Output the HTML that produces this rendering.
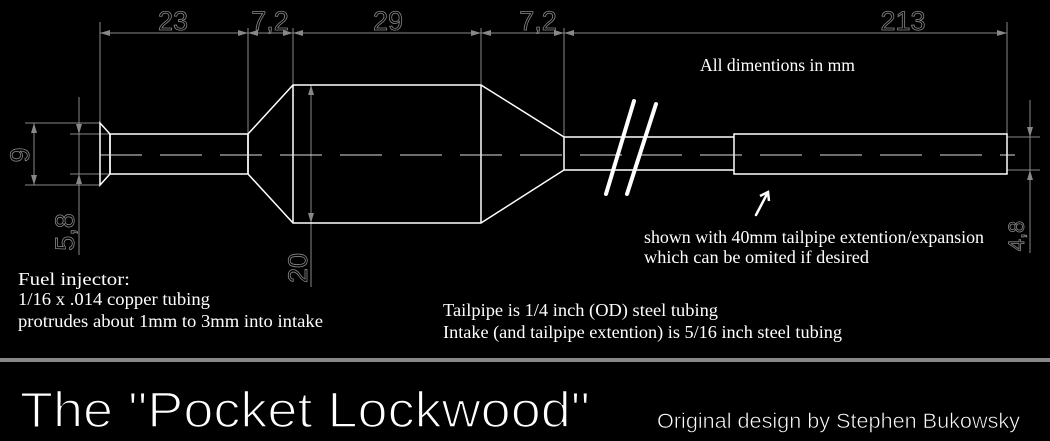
<!DOCTYPE html>
<html><head><meta charset="utf-8"><style>
html,body{margin:0;padding:0;background:#000;}
svg{display:block}
.ser{font-family:"Liberation Serif",serif;fill:#fff;font-size:18px}
.dim{font-family:"Liberation Sans",sans-serif;font-size:27px;fill:none;stroke:#888;stroke-width:0.8}
</style></head><body>
<svg width="1050" height="441" viewBox="0 0 1050 441" xmlns="http://www.w3.org/2000/svg">
<defs>
<marker id="a" viewBox="0 0 10 6" refX="10" refY="3" markerWidth="10" markerHeight="6" markerUnits="userSpaceOnUse" orient="auto-start-reverse"><path d="M0,0 L10,3 L0,6 z" fill="#888"/></marker>
</defs>
<rect width="1050" height="441" fill="#000"/>
<g stroke="#888" stroke-width="1" fill="none">
<line x1="100" y1="22" x2="100" y2="123"/>
<line x1="248" y1="28" x2="248" y2="134"/>
<line x1="293" y1="28" x2="293" y2="85"/>
<line x1="481" y1="28" x2="481" y2="85"/>
<line x1="564" y1="28" x2="564" y2="137"/>
<line x1="1007" y1="22" x2="1007" y2="134"/>
<line x1="25" y1="123" x2="100" y2="123"/>
<line x1="25" y1="185" x2="100" y2="185"/>
<line x1="70" y1="134" x2="110" y2="134"/>
<line x1="70" y1="174" x2="110" y2="174"/>
<line x1="1007" y1="137" x2="1040" y2="137"/>
<line x1="1007" y1="170" x2="1040" y2="170"/>
<line x1="100" y1="33" x2="248" y2="33" marker-start="url(#a)" marker-end="url(#a)"/>
<line x1="248" y1="33" x2="293" y2="33" marker-start="url(#a)" marker-end="url(#a)"/>
<line x1="293" y1="33" x2="481" y2="33" marker-start="url(#a)" marker-end="url(#a)"/>
<line x1="481" y1="33" x2="564" y2="33" marker-start="url(#a)" marker-end="url(#a)"/>
<line x1="564" y1="33" x2="1007" y2="33" marker-start="url(#a)" marker-end="url(#a)"/>
<line x1="34" y1="123" x2="34" y2="185" marker-start="url(#a)" marker-end="url(#a)"/>
<line x1="79" y1="97" x2="79" y2="134" marker-end="url(#a)"/>
<line x1="79" y1="134" x2="79" y2="174"/>
<line x1="79" y1="255" x2="79" y2="174" marker-end="url(#a)"/>
<line x1="311" y1="85" x2="311" y2="223" marker-start="url(#a)" marker-end="url(#a)"/>
<line x1="311" y1="223" x2="311" y2="287"/>
<line x1="1030" y1="100" x2="1030" y2="137" marker-end="url(#a)"/>
<line x1="1030" y1="137" x2="1030" y2="170"/>
<line x1="1030" y1="253" x2="1030" y2="170" marker-end="url(#a)"/>
</g>
<g class="dim">
<text x="173" y="30" text-anchor="middle">23</text>
<text x="270" y="30" text-anchor="middle">7,2</text>
<text x="388" y="30" text-anchor="middle">29</text>
<text x="538" y="30" text-anchor="middle">7,2</text>
<text x="903" y="30" text-anchor="middle">213</text>
<text transform="translate(29,155) rotate(-90)" text-anchor="middle">9</text>
<text transform="translate(74,232) rotate(-90)" text-anchor="middle">5,8</text>
<text transform="translate(307,268) rotate(-90)" text-anchor="middle">20</text>
<text transform="translate(1024,236) rotate(-90)" text-anchor="middle" style="font-size:22px">4,8</text>
</g>
<g stroke="#fff" stroke-width="1.5" fill="none">
<polygon points="100,123 110,134 110,174 100,185"/>
<rect x="110" y="134" width="138" height="40"/>
<polygon points="248,134 293,85 481,85 564,137 564,170 481,223 293,223 248,174"/>
<line x1="293" y1="85" x2="293" y2="223"/>
<line x1="481" y1="85" x2="481" y2="223"/>
<line x1="564" y1="137" x2="734" y2="137"/>
<line x1="564" y1="170" x2="734" y2="170"/>
<rect x="734" y="134" width="273" height="40"/>
</g>
<line x1="100" y1="155" x2="1015" y2="155" stroke="#ddd" stroke-width="1" stroke-dasharray="42,18"/>
<g stroke="#fff" stroke-width="4" stroke-linecap="round">
<line x1="634" y1="101" x2="606" y2="194"/>
<line x1="656" y1="104" x2="627" y2="194"/>
<line x1="756" y1="215" x2="767" y2="194" stroke-width="2.5"/>
</g>
<path d="M760,196 L768,192 L769,201" stroke="#fff" stroke-width="2.5" fill="none"/>
<g class="ser">
<text x="700" y="71" textLength="155" lengthAdjust="spacingAndGlyphs">All dimentions in mm</text>
<text x="644" y="243" textLength="340" lengthAdjust="spacingAndGlyphs">shown with 40mm tailpipe extention/expansion</text>
<text x="644" y="263" textLength="225" lengthAdjust="spacingAndGlyphs">which can be omited if desired</text>
<text x="18" y="285" textLength="112" lengthAdjust="spacingAndGlyphs">Fuel injector:</text>
<text x="18" y="305" textLength="192" lengthAdjust="spacingAndGlyphs">1/16 x .014 copper tubing</text>
<text x="18" y="327" textLength="305" lengthAdjust="spacingAndGlyphs">protrudes about 1mm to 3mm into intake</text>
<text x="443" y="316" textLength="275" lengthAdjust="spacingAndGlyphs">Tailpipe is 1/4 inch (OD) steel tubing</text>
<text x="443" y="338" textLength="399" lengthAdjust="spacingAndGlyphs">Intake (and tailpipe extention) is 5/16 inch steel tubing</text>
</g>
<rect x="0" y="358" width="1050" height="4" fill="#888"/>
<text x="20" y="427" font-family="Liberation Sans, sans-serif" font-size="50" fill="#fff" stroke="#000" stroke-width="1.6" textLength="570" lengthAdjust="spacingAndGlyphs">The "Pocket Lockwood"</text>
<text x="657" y="428" font-family="Liberation Sans, sans-serif" font-size="21" fill="#fff" stroke="#000" stroke-width="0.6" textLength="363" lengthAdjust="spacingAndGlyphs">Original design by Stephen Bukowsky</text>
</svg>
</body></html>
